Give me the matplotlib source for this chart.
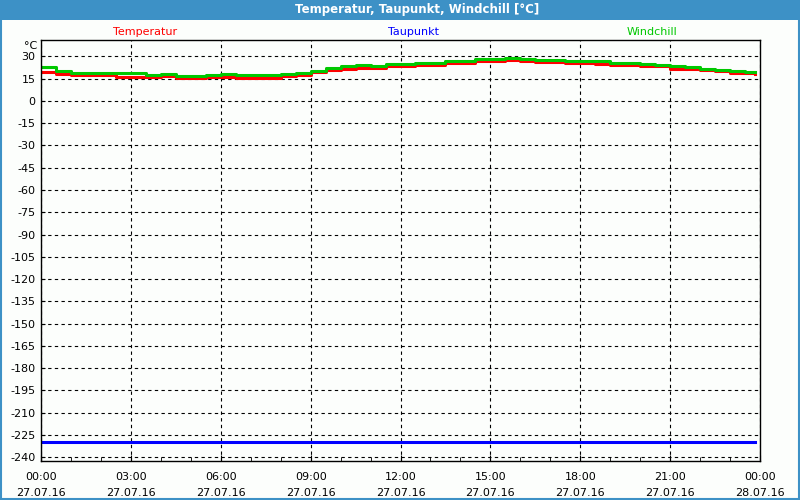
import matplotlib
matplotlib.use("Agg")
import matplotlib.pyplot as plt
from matplotlib.patches import Rectangle
from matplotlib.ticker import MultipleLocator

# hours since 27.07.16 00:00
hours = [0.0, 0.5, 1.0, 1.5, 2.0, 2.5, 3.0, 3.5, 4.0, 4.5, 5.0, 5.5, 6.0, 6.5,
         7.0, 7.5, 8.0, 8.5, 9.0, 9.5, 10.0, 10.5, 11.0, 11.5, 12.0, 12.5,
         13.0, 13.5, 14.0, 14.5, 15.0, 15.5, 16.0, 16.5, 17.0, 17.5, 18.0,
         18.5, 19.0, 19.5, 20.0, 20.5, 21.0, 21.5, 22.0, 22.5, 23.0, 23.5, 23.83]

temperatur = [19.6, 18.2, 17.3, 17.3, 17.3, 16.4, 16.4, 16.4, 16.9, 15.7, 15.7,
              15.9, 15.9, 15.7, 15.5, 15.7, 16.6, 17.6, 19.3, 20.7, 21.8, 22.3,
              22.3, 23.6, 23.6, 24.3, 24.3, 25.2, 25.2, 26.6, 26.6, 27.2, 26.6,
              25.9, 26.1, 25.4, 25.4, 25.0, 24.3, 24.3, 23.6, 23.2, 21.8, 21.2,
              20.5, 19.8, 19.1, 18.5, 18.0]

windchill = [22.5, 20.0, 18.9, 18.9, 18.9, 18.9, 18.9, 17.3, 18.2, 16.6, 16.6,
             17.3, 18.2, 17.3, 17.1, 17.3, 18.2, 18.6, 20.0, 22.3, 23.4, 24.0,
             23.4, 25.0, 25.0, 25.7, 25.7, 26.6, 26.6, 28.1, 28.1, 28.8, 28.1,
             27.4, 27.4, 26.8, 26.8, 26.8, 25.7, 25.7, 25.0, 24.5, 23.2, 22.5,
             21.8, 21.0, 20.3, 19.6, 19.6]

taupunkt = [-229.7] * len(hours)

x_ticks = [0, 3, 6, 9, 12, 15, 18, 21, 24]
x_labels = ["00:00\n27.07.16", "03:00\n27.07.16", "06:00\n27.07.16",
            "09:00\n27.07.16", "12:00\n27.07.16", "15:00\n27.07.16",
            "18:00\n27.07.16", "21:00\n27.07.16", "00:00\n28.07.16"]
y_ticks = list(range(30, -241, -15))

bg = '#fcfefc'
frame_blue = '#3d91c6'

fig = plt.figure(figsize=(8, 5), dpi=100, facecolor=bg)
ax = fig.add_axes([41 / 800, 39 / 500, 719 / 800, 421 / 500])
ax.set_facecolor(bg)

ax.step(hours, taupunkt, where='post', color='#0000ff', lw=2.2)
ax.step(hours, temperatur, where='post', color='#ff0000', lw=2.2)
ax.step(hours, windchill, where='post', color='#00c800', lw=2.2)

ax.set_xlim(0, 24)
ax.set_ylim(-242.5, 41)
ax.set_xticks(x_ticks)
ax.set_xticklabels(x_labels, fontsize=8, linespacing=1.7)
ax.xaxis.set_minor_locator(MultipleLocator(1))
ax.set_yticks(y_ticks)
ax.set_yticklabels([str(v) for v in y_ticks], fontsize=8)

ax.grid(True, which='major', color='black', linestyle=(0, (3, 3)), lw=0.8)
ax.tick_params(axis='x', which='major', direction='in', length=4, pad=8)
ax.tick_params(axis='x', which='minor', direction='in', length=3)
ax.tick_params(axis='y', which='major', direction='in', length=3, pad=4)
for s in ax.spines.values():
    s.set_linewidth(1.0)
    s.set_color('black')

# title bar and frame
fig.patches.append(Rectangle((0, 1 - 20 / 500), 1, 20 / 500, transform=fig.transFigure,
                             facecolor=frame_blue, edgecolor='none', zorder=0))
fig.patches.append(Rectangle((0.001, 0.002), 0.998, 0.996, transform=fig.transFigure,
                             facecolor='none', edgecolor=frame_blue, lw=1.5, zorder=0))
fig.text(417 / 800, 1 - 10 / 500, 'Temperatur, Taupunkt, Windchill [°C]', color='white',
         fontsize=8.5, fontweight='bold', ha='center', va='center')

fig.text(145 / 800, 1 - 32 / 500, 'Temperatur', color='#ff0000', fontsize=8, ha='center', va='center')
fig.text(413 / 800, 1 - 32 / 500, 'Taupunkt', color='#0000ff', fontsize=8, ha='center', va='center')
fig.text(652 / 800, 1 - 32 / 500, 'Windchill', color='#00c800', fontsize=8, ha='center', va='center')
fig.text(31 / 800, 1 - 46 / 500, '°C', fontsize=8, ha='center', va='center')

plt.savefig('out.png', dpi=100, facecolor=bg)
plt.close()
